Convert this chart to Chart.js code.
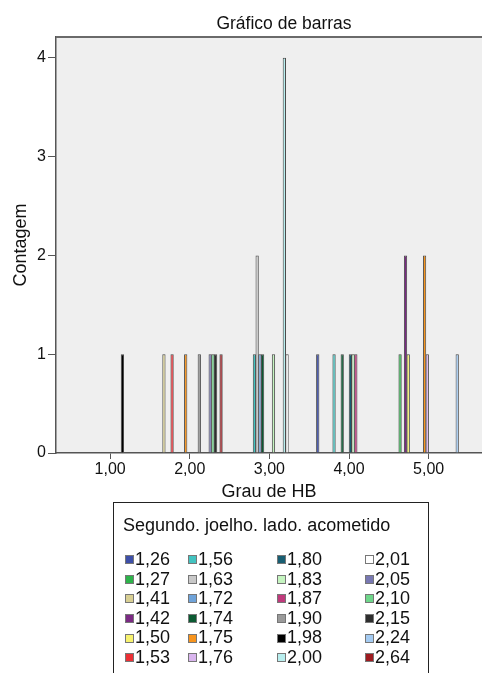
<!DOCTYPE html>
<html lang="pt">
<head>
<meta charset="utf-8">
<title>Gráfico de barras</title>
<script src="https://cdn.jsdelivr.net/npm/chart.js@4.4.1/dist/chart.umd.min.js"></script>
<style>
  html, body { margin: 0; padding: 0; background: #fff; overflow: hidden; }
  #wrap { position: relative; width: 482px; height: 673px; }
  #legend {
    position: absolute; left: 113px; top: 502px; width: 316px; height: 200px;
    border: 1px solid #222; box-sizing: border-box;
    font-family: "Liberation Sans", Arial, sans-serif; font-size: 18px; color: #111;
  }
  #legend .ttl { position: absolute; left: 9px; top: 12px; white-space: nowrap; }
  #legend ul {
    list-style: none; margin: 0; padding: 0;
    position: absolute; left: 11px; top: 47px;
    display: grid; grid-auto-flow: column;
    grid-template-rows: repeat(6, 19.6px);
    grid-template-columns: 63px 89px 88px 60px;
  }
  #legend li { display: flex; align-items: center; white-space: nowrap; line-height: 19.6px; }
  #legend .sw { width: 7px; height: 7px; border: 1px solid #777; margin-right: 1px; flex: none; }
</style>
</head>
<body>
<div id="wrap">
  <canvas id="barChart" width="482" height="673"></canvas>
  <div id="legend">
    <div class="ttl"></div>
    <ul></ul>
  </div>
</div>
<script>
// Dados (Grau de HB x contagem por valor do segundo joelho)
const chartTitle = 'Gráfico de barras';
const legendTitle = 'Segundo. joelho. lado. acometido';
const categories = [1, 2, 3, 4, 5];
const xTickLabels = ['1,00', '2,00', '3,00', '4,00', '5,00'];
const yTicks = [0, 1, 2, 3, 4];

const seriesLabels = [
  '1,26', '1,27', '1,41', '1,42', '1,50', '1,53',
  '1,56', '1,63', '1,72', '1,74', '1,75', '1,76',
  '1,80', '1,83', '1,87', '1,90', '1,98', '2,00',
  '2,01', '2,05', '2,10', '2,15', '2,24', '2,64'
];
const seriesColors = [
  '#3d4fa8', '#2db34a', '#d8cf93', '#7b2a84', '#f7f26e', '#ec2f35',
  '#42c3c0', '#c8c8c8', '#6fa3d9', '#0b5a32', '#f7941d', '#d9b5ee',
  '#185e72', '#c5f5c0', '#c03a7c', '#9a9a9a', '#000000', '#b8eeee',
  '#ffffff', '#7878b2', '#6ed68a', '#2e2e2e', '#a4cbf2', '#9e1b20'
];
// contagem por categoria 1..5, na mesma ordem das séries
const counts = [
  [0, 0, 0, 1, 0], [0, 0, 0, 0, 1], [0, 1, 0, 0, 0], [0, 0, 0, 0, 2],
  [0, 0, 0, 0, 1], [0, 1, 0, 0, 0], [0, 0, 1, 1, 0], [0, 0, 2, 0, 0],
  [0, 0, 1, 0, 0], [0, 0, 1, 1, 0], [0, 1, 0, 0, 2], [0, 0, 0, 0, 1],
  [0, 0, 0, 1, 0], [0, 0, 1, 1, 0], [0, 0, 0, 1, 0], [0, 1, 0, 0, 0],
  [1, 0, 0, 0, 0], [0, 0, 4, 0, 0], [0, 0, 1, 0, 0], [0, 1, 0, 0, 0],
  [0, 1, 0, 0, 0], [0, 1, 0, 0, 0], [0, 0, 0, 0, 1], [0, 1, 0, 0, 0]
];

const FONT = '"Liberation Sans", Arial, sans-serif';
const INK = '#111';
const AXIS = '#555';

// Fundo cinza da área do gráfico + linha superior
const plotFrame = {
  id: 'plotFrame',
  beforeDraw(chart) {
    const { ctx, chartArea: a } = chart;
    ctx.save();
    ctx.fillStyle = '#efefef';
    ctx.fillRect(a.left, a.top, a.right - a.left, a.bottom - a.top);
    ctx.restore();
  },
  afterDraw(chart) {
    const { ctx, chartArea: a } = chart;
    ctx.save();
    ctx.strokeStyle = '#6a6a6a';
    ctx.lineWidth = 2;
    ctx.beginPath();
    ctx.moveTo(a.left, a.top);
    ctx.lineTo(a.right, a.top);
    ctx.stroke();
    ctx.restore();
  }
};

// Título do gráfico (fica deslocado para a direita como no original)
const titleText = {
  id: 'titleText',
  afterDraw(chart) {
    const ctx = chart.ctx;
    ctx.save();
    ctx.font = '17.5px ' + FONT;
    ctx.fillStyle = INK;
    ctx.textAlign = 'center';
    ctx.textBaseline = 'middle';
    ctx.fillText(chartTitle, 284, 24);
    ctx.restore();
  }
};

const ctx = document.getElementById('barChart').getContext('2d');
const chart = new Chart(ctx, {
  type: 'bar',
  data: {
    datasets: seriesLabels.map((label, i) => ({
      label: label,
      data: categories.map((c, j) => ({ x: c, y: counts[i][j] || null })),
      backgroundColor: seriesColors[i],
      borderColor: '#4a4a4a',
      borderWidth: 1,
      categoryPercentage: 0.82,
      barPercentage: 1.2
    }))
  },
  options: {
    responsive: false,
    animation: false,
    layout: { padding: { top: 37, right: 0, bottom: 170, left: 0 } },
    plugins: {
      legend: { display: false },
      title: { display: false },
      tooltip: { enabled: false }
    },
    scales: {
      x: {
        type: 'linear',
        min: 0.32,
        max: 5.67,
        bounds: 'data',
        offset: false,
        afterBuildTicks: (s) => { s.ticks = categories.map(v => ({ value: v })); },
        afterFit: (s) => { s.height = 50; },
        grid: { offset: false, drawOnChartArea: false, drawTicks: true, tickLength: 6, color: AXIS },
        border: { display: true, color: AXIS, width: 1.5 },
        ticks: {
          callback: (v, i) => xTickLabels[i],
          font: { family: FONT, size: 16 },
          color: INK,
          padding: 1,
          maxRotation: 0
        },
        title: {
          display: true,
          text: 'Grau de HB',
          font: { family: FONT, size: 18 },
          color: INK,
          padding: { top: 0, bottom: 0 }
        }
      },
      y: {
        min: 0,
        max: 4.21,
        bounds: 'data',
        afterBuildTicks: (s) => { s.ticks = yTicks.map(v => ({ value: v })); },
        afterFit: (s) => { s.width = 56; },
        grid: { drawOnChartArea: false, drawTicks: true, tickLength: 8, color: AXIS },
        border: { display: true, color: AXIS, width: 1.5 },
        ticks: {
          font: { family: FONT, size: 16 },
          color: INK,
          padding: 2
        },
        title: {
          display: true,
          text: 'Contagem',
          font: { family: FONT, size: 18 },
          color: INK,
          padding: { top: 10, bottom: 0 }
        }
      }
    }
  },
  plugins: [plotFrame, titleText]
});

// Legenda em caixa, preenchida por colunas como no SPSS
document.querySelector('#legend .ttl').textContent = legendTitle;
const list = document.querySelector('#legend ul');
chart.data.datasets.forEach(ds => {
  const li = document.createElement('li');
  const sw = document.createElement('span');
  sw.className = 'sw';
  sw.style.background = ds.backgroundColor;
  li.appendChild(sw);
  li.appendChild(document.createTextNode(ds.label));
  list.appendChild(li);
});
</script>
</body>
</html>
